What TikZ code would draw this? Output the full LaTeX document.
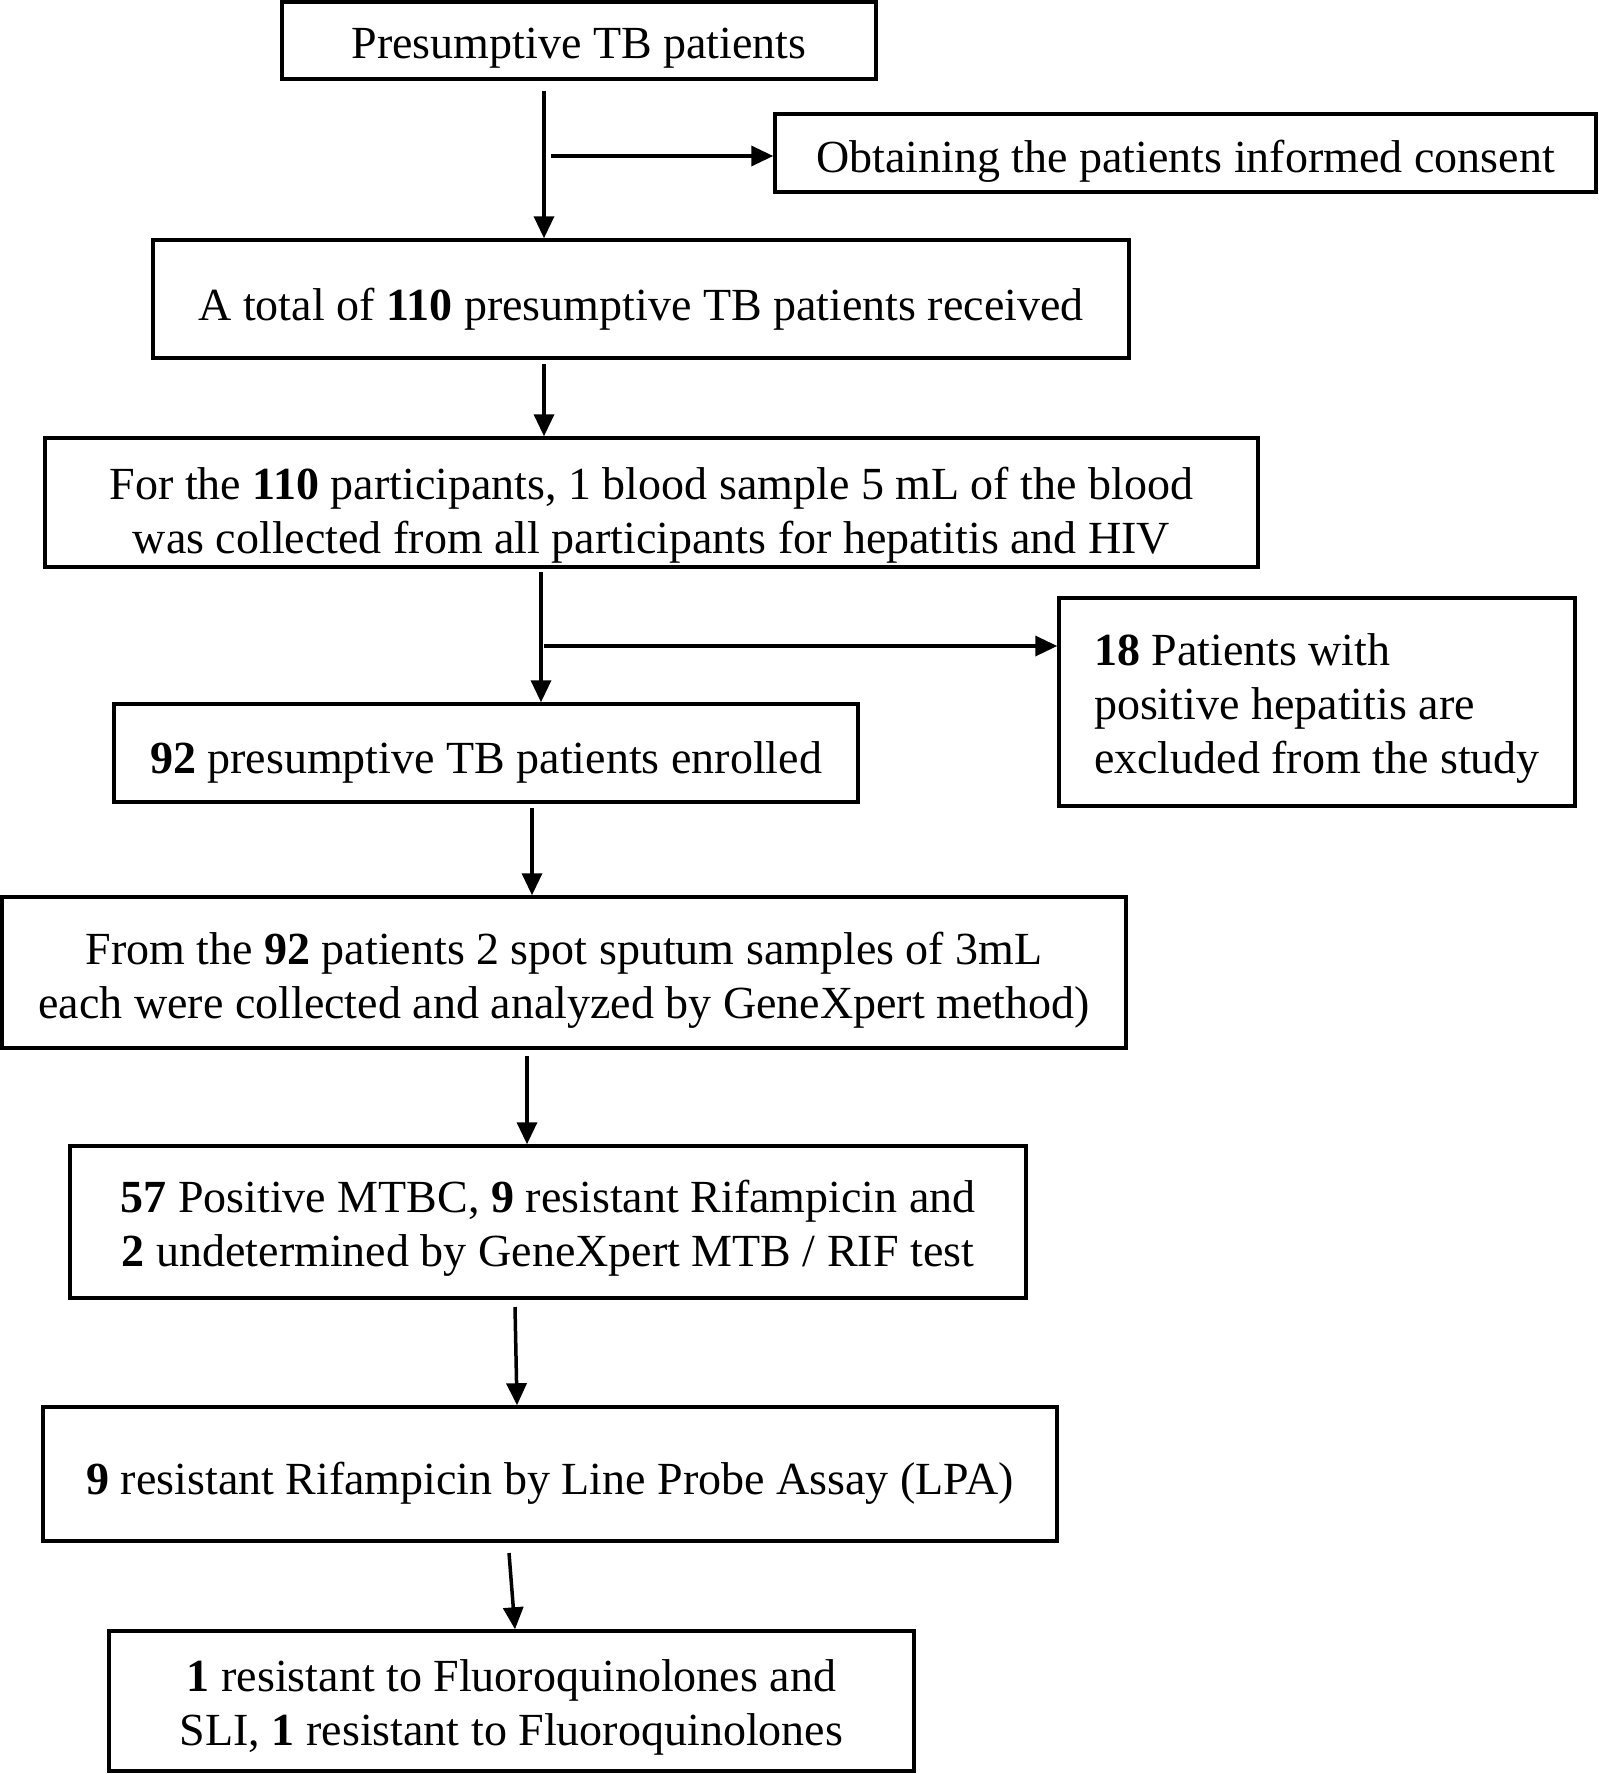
\documentclass[tikz,border=0pt]{standalone}
\usepackage{fontspec}
\setmainfont{Liberation Serif}
\usetikzlibrary{arrows.meta}
\begin{document}
\begin{tikzpicture}[x=1pt,y=-1pt,
  box/.style={draw,line width=3.5pt,inner sep=0pt},
  txt/.style={inner sep=0pt,align=center,font=\fontsize{46}{54}\selectfont},
  arr/.style={line width=3.5pt,-{Triangle[length=22pt,width=20pt]}}]
\useasboundingbox (0,0) rectangle (1598,1774);
\fill[white] (0,0) rectangle (1598,1774);
\node[box,minimum width=594pt,minimum height=77pt] (b1) at (579,40.5) {};
\node[box,minimum width=821pt,minimum height=78pt] (b2) at (1185.5,153) {};
\node[box,minimum width=976pt,minimum height=118pt] (b3) at (641,299) {};
\node[box,minimum width=1213pt,minimum height=129pt] (b4) at (651.5,502.5) {};
\node[box,minimum width=744pt,minimum height=98pt] (b5) at (486,753) {};
\node[box,minimum width=516pt,minimum height=208pt] (b6) at (1317,702) {};
\node[box,minimum width=1124pt,minimum height=151pt] (b7) at (564,972.5) {};
\node[box,minimum width=956pt,minimum height=152pt] (b8) at (548,1222) {};
\node[box,minimum width=1014pt,minimum height=134pt] (b9) at (550,1474) {};
\node[box,minimum width=805pt,minimum height=140pt] (b10) at (511.5,1701) {};
\node[txt] (t1x) at ([yshift=-8pt]b1.center) {Presumptive TB patients};
\node[txt] (t2x) at ([yshift=-8pt]b2.center) {Obtaining the patients informed consent};
\node[txt] (t3x) at ([yshift=-10pt]b3.center) {A total of \textbf{110} presumptive TB patients received};
\node[txt] (t4x) at ([yshift=-13pt]b4.center) {For the \textbf{110} participants, 1 blood sample 5 mL of the blood\\was collected from all participants for hepatitis and HIV};
\node[txt] (t5x) at ([yshift=-9pt]b5.center) {\textbf{92} presumptive TB patients enrolled};
\node[txt,align=left] (t6x) at ([yshift=-6pt]b6.center) {\textbf{18} Patients with\\positive hepatitis are\\excluded from the study};
\node[txt] (t7x) at ([yshift=-8pt]b7.center) {From the \textbf{92} patients 2 spot sputum samples of 3mL\\each were collected and analyzed by GeneXpert method)};
\node[txt] (t8x) at ([yshift=-6pt]b8.center) {\textbf{57} Positive MTBC, \textbf{9} resistant Rifampicin and\\\textbf{2} undetermined by GeneXpert MTB / RIF test};
\node[txt] (t9x) at ([yshift=-9pt]b9.center) {\textbf{9} resistant Rifampicin by Line Probe Assay (LPA)};
\node[txt] (t10x) at ([yshift=-6pt]b10.center) {\textbf{1} resistant to Fluoroquinolones and\\SLI, \textbf{1} resistant to Fluoroquinolones};
\coordinate (s1) at (544,91);
\coordinate (t1) at (551,156);
\coordinate (s2) at (544,364);
\coordinate (s3) at (541,572);
\coordinate (t3) at (544,646);
\coordinate (s4) at (532,808);
\coordinate (s5) at (527,1056);
\coordinate (s6) at (515,1307);
\coordinate (e6) at (517,0);
\coordinate (s7) at (509,1553);
\coordinate (e7) at (515,0);
\draw[arr] (s1) -- (s1 |- b3.north);
\draw[arr] (t1) -- (t1 -| b2.west);
\draw[arr] (s2) -- (s2 |- b4.north);
\draw[arr] (s3) -- (s3 |- b5.north);
\draw[arr] (t3) -- (t3 -| b6.west);
\draw[arr] (s4) -- (s4 |- b7.north);
\draw[arr] (s5) -- (s5 |- b8.north);
\draw[arr] (s6) -- (e6 |- b9.north);
\draw[arr] (s7) -- (e7 |- b10.north);
\end{tikzpicture}
\end{document}
